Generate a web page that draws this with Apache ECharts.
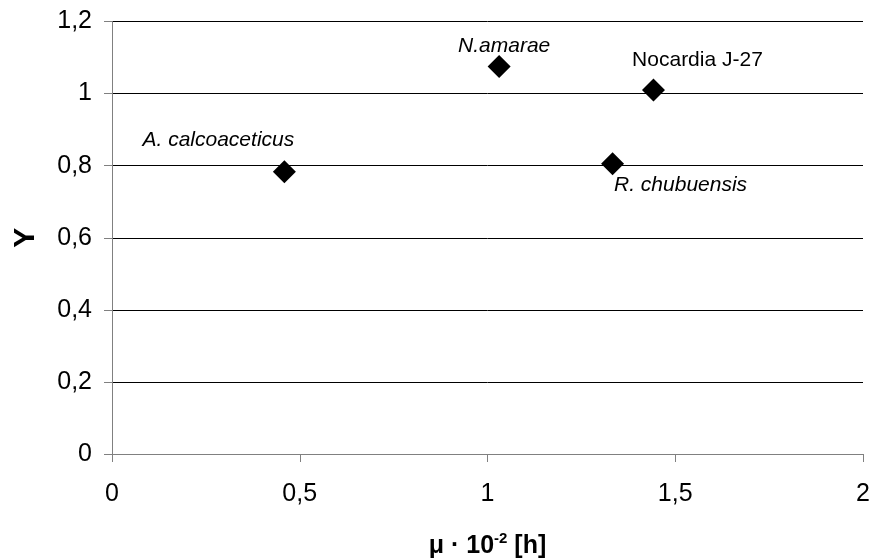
<!DOCTYPE html>
<html>
<head>
<meta charset="utf-8">
<script src="https://cdn.jsdelivr.net/npm/echarts@6/dist/echarts.min.js"></script>
<style>
  html, body { margin: 0; padding: 0; background: #fff; }
  #chart { width: 872px; height: 560px; }
</style>
</head>
<body>
<div id="chart"></div>
<script>
// Strains: growth rate (x) vs. yield (y)
const strains = ['A. calcoaceticus', 'N.amarae', 'Nocardia J-27', 'R. chubuensis'];
const muValues = [0.459, 1.031, 1.442, 1.333];
const yieldValues = [0.783, 1.075, 1.010, 0.805];
const italicNames = [true, true, false, true];
const xTicks = [0, 0.5, 1, 1.5, 2];
const yTicks = [0, 0.2, 0.4, 0.6, 0.8, 1, 1.2];

// label placement relative to each marker
const labelOffsets = [[-66, -32], [5, -20], [44, -30], [68, 21]];

const FONT = '"Liberation Sans", Arial, sans-serif';
const commaFmt = v => String(Math.round(v * 10) / 10).replace('.', ',');

const points = strains.map((name, i) => ({
  name: name,
  value: [muValues[i], yieldValues[i]],
  label: {
    show: true,
    position: 'inside',
    offset: labelOffsets[i],
    formatter: name,
    color: '#000',
    fontFamily: FONT,
    fontSize: 21,
    fontStyle: italicNames[i] ? 'italic' : 'normal'
  }
}));

const chart = echarts.init(document.getElementById('chart'), null, { renderer: 'canvas' });
chart.setOption({
  animation: false,
  backgroundColor: '#fff',
  grid: {
    left: 112, right: 9, top: 21.5, bottom: 106,
    containLabel: false,
    outerBoundsMode: 'none'
  },
  xAxis: {
    type: 'value',
    min: xTicks[0],
    max: xTicks[xTicks.length - 1],
    interval: 0.5,
    name: '{a|μ · 10}{sup|-2}{a| [h]}',
    nameLocation: 'middle',
    nameGap: 77,
    nameTextStyle: {
      rich: {
        a: { fontFamily: FONT, fontSize: 25, fontWeight: 'bold', color: '#000', lineHeight: 30 },
        sup: { fontFamily: FONT, fontSize: 15, fontWeight: 'bold', color: '#000', verticalAlign: 'top', lineHeight: 30 }
      }
    },
    axisLine: { show: true, lineStyle: { color: '#808080', width: 1 } },
    axisTick: { show: true, inside: false, length: 8, lineStyle: { color: '#808080' } },
    axisLabel: { formatter: commaFmt, color: '#000', fontFamily: FONT, fontSize: 25, margin: 28 },
    splitLine: { show: false }
  },
  yAxis: {
    type: 'value',
    min: yTicks[0],
    max: yTicks[yTicks.length - 1],
    interval: 0.2,
    name: 'Y',
    nameLocation: 'middle',
    nameRotate: 90,
    nameGap: 71,
    nameTextStyle: { fontFamily: FONT, fontSize: 30, fontWeight: 'bold', color: '#000' },
    axisLine: { show: true, lineStyle: { color: '#808080', width: 1 } },
    axisTick: { show: true, inside: false, length: 8, lineStyle: { color: '#808080' } },
    axisLabel: { formatter: commaFmt, color: '#000', fontFamily: FONT, fontSize: 25, margin: 20 },
    splitLine: { show: true, lineStyle: { color: '#000', width: 1 } }
  },
  series: [{
    type: 'scatter',
    symbol: 'diamond',
    symbolSize: 23,
    itemStyle: { color: '#000', opacity: 1 },
    data: points
  }]
});
</script>
</body>
</html>
